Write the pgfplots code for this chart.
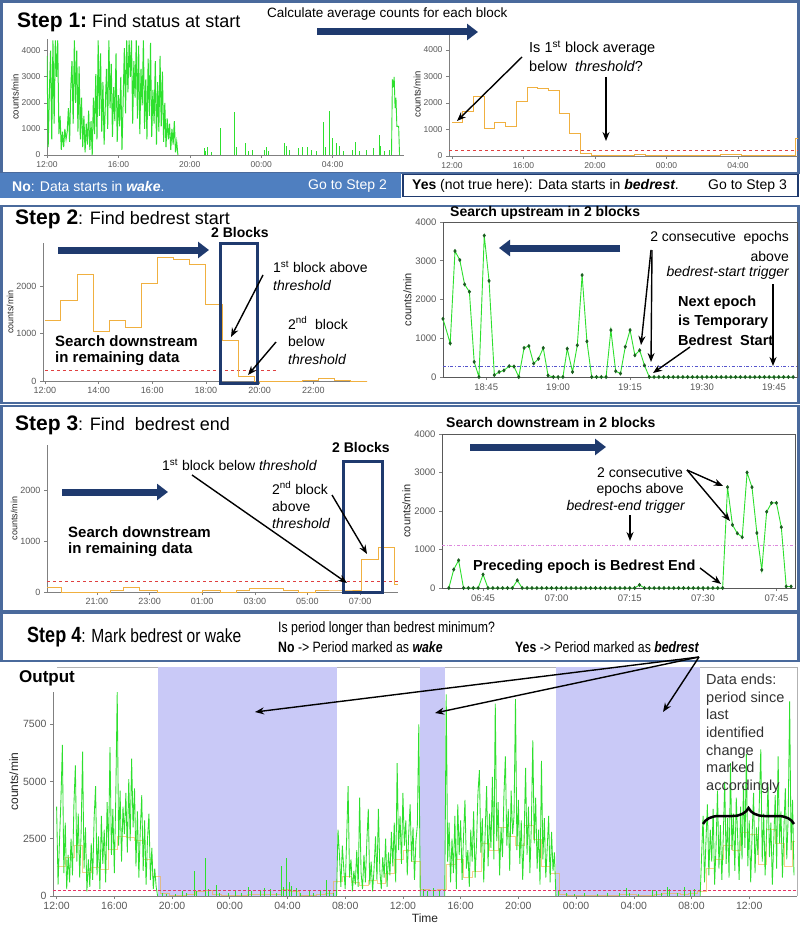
\documentclass[border=0pt]{standalone}
\usepackage{fontspec}
\setmainfont{Liberation Sans}
\usepackage{graphicx}
\usepackage{pgfplots}
\usepackage{pgfplotstable}
\pgfplotsset{compat=1.18}
\usetikzlibrary{arrows.meta,decorations.pathreplacing}
\definecolor{navy}{HTML}{1F3A6E}
\definecolor{panel}{HTML}{4A6A9C}
\definecolor{barblue}{HTML}{4F7FC0}
\definecolor{lav}{HTML}{C9C9F7}
\definecolor{orng}{HTML}{F0B040}
\definecolor{thr}{HTML}{E04040}
\definecolor{lgreen}{HTML}{2EE02E}
\definecolor{dkgreen}{HTML}{1B5E20}
\definecolor{axgray}{HTML}{808080}
\definecolor{tickgray}{HTML}{595959}
\definecolor{trigblue}{HTML}{5555CC}
\definecolor{trigpink}{HTML}{DD88DD}
\newcommand{\fs}[1]{\fontsize{#1}{#1}\selectfont}

% ---------- data ----------
\pgfplotstableread[row sep=\\]{y\\ 3800\\ 300\\ 2400\\ 4000\\ 600\\
4400\\ 1200\\ 4400\\ 3000\\ 4400\\ 800\\
1500\\ 200\\ 900\\ 300\\ 1000\\
600\\ 900\\ 1800\\ 500\\ 2600\\
3600\\ 1200\\ 4400\\ 2000\\ 4000\\
900\\ 3400\\ 600\\ 2200\\ 300\\
1500\\ 100\\ 1200\\ 400\\ 1700\\
200\\ 1300\\ 0\\ 2200\\ 800\\
3100\\ 600\\ 4400\\ 1500\\ 3900\\
900\\ 2800\\ 400\\ 1900\\ 3300\\
1000\\ 4400\\ 1800\\ 3500\\ 700\\
2600\\ 1300\\ 3900\\ 500\\ 2300\\
1100\\ 3000\\ 200\\ 2100\\ 4100\\
1600\\ 4400\\ 2400\\ 4400\\ 3000\\
4400\\ 1200\\ 3600\\ 2200\\ 4400\\
1400\\ 4200\\ 800\\ 3300\\ 1900\\
4400\\ 1000\\ 2900\\ 600\\ 3700\\
1500\\ 4300\\ 700\\ 2500\\ 1200\\
3600\\ 400\\ 2800\\ 900\\ 3800\\
1100\\ 3200\\ 500\\ 2000\\ 300\\
1400\\ 600\\ 1200\\ 200\\ 1000\\
400\\ 1300\\ 100\\ 500\\ 0\\}\sOne

\pgfplotstableread[row sep=\\]{x y\\ 12 1270\\ 12.6 1690\\ 13.2 2250\\ 13.8 1050\\ 14.4 1270\\ 15.0 1130\\ 15.6 2060\\ 16.2 2600\\ 16.8 2560\\ 17.4 2460\\ 18.0 1610\\ 18.6 850\\ 19.2 90\\ 19.8 0\\ 21.6 20\\ 22.2 60\\ 22.8 20\\ 23.4 0\\ 25.2 20\\ 25.8 0\\ 26.4 20\\ 27.0 60\\ 27.6 70\\ 28.2 30\\ 28.8 0\\ 29.4 20\\ 30.6 20\\ 31.2 650\\ 31.8 650\\}\blocks

\pgfplotstableread[row sep=\\]{y\\ 3900\\ 500\\ 2400\\ 4200\\ 6600\\ 1000\\ 3200\\ 300\\ 1800\\ 600\\
2500\\ 900\\ 4000\\ 5700\\ 1500\\ 3600\\ 800\\ 2800\\ 6300\\ 1200\\
3000\\ 200\\ 1600\\ 400\\ 2300\\ 700\\ 3400\\ 4800\\ 900\\ 2600\\
300\\ 3500\\ 1400\\ 2900\\ 600\\ 4100\\ 2000\\ 6500\\ 1800\\ 3800\\
1000\\ 4300\\ 8900\\ 2200\\ 4600\\ 1500\\ 3900\\ 2700\\ 4500\\ 1900\\
5100\\ 2400\\ 6000\\ 3000\\ 4700\\ 1300\\ 3700\\ 800\\ 2900\\ 4400\\
1100\\ 3300\\ 500\\ 2500\\ 3600\\ 700\\ 2100\\ 300\\ 1200\\ 400\\ 0\\}\outA

\pgfplotstableread[row sep=\\]{y\\ 0\\ 2900\\ 1800\\ 400\\ 2200\\ 1200\\ 300\\ 2500\\ 4800\\ 800\\
1600\\ 200\\ 1100\\ 500\\ 2000\\ 400\\ 4300\\ 1000\\ 300\\ 1800\\
600\\ 2400\\ 3800\\ 500\\ 1500\\ 200\\ 1200\\ 2600\\ 700\\ 3800\\
1100\\ 300\\ 1700\\ 800\\ 2500\\ 400\\ 1900\\ 900\\ 2800\\ 1300\\
3200\\ 600\\ 5800\\ 2000\\ 3500\\ 1400\\ 4500\\ 2200\\ 3300\\ 900\\
2700\\ 4000\\ 1500\\ 3000\\ 700\\ 2400\\ 3100\\ 7500\\ 0\\}\outB

\pgfplotstableread[row sep=\\]{y\\ 0\\ 8800\\ 1500\\ 3200\\ 600\\ 2500\\ 1000\\ 3500\\ 300\\ 4000\\
1800\\ 3300\\ 700\\ 2600\\ 4200\\ 1200\\ 2000\\ 400\\ 2900\\ 1500\\
3700\\ 800\\ 2300\\ 4500\\ 5500\\ 1900\\ 3400\\ 600\\ 2800\\ 4800\\
1300\\ 3600\\ 2100\\ 5200\\ 1600\\ 8400\\ 2400\\ 4100\\ 900\\ 3000\\
1700\\ 4400\\ 6100\\ 2200\\ 3800\\ 1100\\ 4600\\ 2700\\ 3500\\ 8600\\
2000\\ 4200\\ 1400\\ 3300\\ 700\\ 2600\\ 5600\\ 1800\\ 3900\\ 1000\\
3100\\ 6800\\ 2300\\ 4300\\ 1200\\ 2900\\ 500\\ 5900\\ 1600\\ 3400\\
800\\ 2100\\ 3500\\ 600\\ 2800\\ 1100\\ 1900\\ 0\\}\outC

\pgfplotstableread[row sep=\\]{y\\ 0\\ 1800\\ 3500\\ 600\\ 2400\\ 4000\\ 900\\ 2900\\ 1500\\ 3800\\
500\\ 2200\\ 4600\\ 1200\\ 3100\\ 700\\ 2600\\ 5000\\ 1400\\ 3400\\
800\\ 5800\\ 2000\\ 3600\\ 1100\\ 4300\\ 2500\\ 700\\ 3900\\ 1600\\
4800\\ 2100\\ 6200\\ 1300\\ 3300\\ 600\\ 2700\\ 4500\\ 1000\\ 3000\\
1800\\ 4100\\ 6400\\ 1500\\ 3600\\ 900\\ 2800\\ 4900\\ 1700\\ 3200\\
500\\ 2400\\ 4400\\ 1200\\ 6100\\ 2300\\ 3700\\ 800\\ 2900\\ 4700\\
1600\\ 3500\\ 8500\\ 2000\\ 4200\\ 900\\}\outD

\pgfplotsset{
 base/.style={scale only axis, anchor=south west,
   axis line style={axgray, line width=0.7pt},
   tick style={axgray, line width=0.6pt}, tick align=outside, major tick length=3pt,
   ticklabel style={text=tickgray},
   /pgf/number format/assume math mode=true, /pgf/number format/1000 sep={},
   scaled y ticks=false, ylabel style={text=black!85}},
 open/.style={base, axis x line*=bottom, axis y line*=left},
 boxed/.style={base, axis line style={black!65, line width=0.8pt}, xtick pos=left, ytick pos=left},
}
\tikzset{
 blk/.style={draw=black, line width=1.4pt, -{Stealth[length=9pt,width=7pt]}},
 nav/.style={draw=navy, line width=7pt, -{Triangle[length=11pt,width=16pt]}},
}

\begin{document}
\begin{tikzpicture}[x=1pt,y=-1pt]
\fill[white] (0,0) rectangle (800,933);
% panel borders
\draw[panel, line width=2.5pt] (1.5,1.5) rectangle (798.5,173);
\draw[panel, line width=2.5pt] (1.5,206) rectangle (798.5,403);
\draw[panel, line width=2.5pt] (1.5,406) rectangle (798.5,611);
\draw[panel, line width=2.5pt] (1.5,613) rectangle (798.5,661);
\fill[barblue] (0,173) rectangle (401,198);
\draw[navy, line width=1.5pt, fill=white] (403,174.5) rectangle (798,196.5);

% ================= Step 1 left =================
\begin{axis}[open, at={(47pt,-155pt)}, width=357pt, height=116pt,
  xmin=12, xmax=32, ymin=0, ymax=4450,
  xtick={12,16,20,24,28}, xticklabels={12:00,16:00,20:00,00:00,04:00},
  ytick={0,1000,2000,3000,4000},
  ticklabel style={font=\fs{8.5}},
  ylabel={counts/min}, ylabel style={font=\fs{9.5}}, ylabel shift=-4pt]
\addplot[lgreen, line width=1pt] table[x expr=12+\coordindex*0.0666667, y=y] {\sOne};
\addplot[lgreen, line width=0.9pt, ycomb] coordinates {(20.8,250)(20.9,150)(21.0,300)(21.2,100)(21.7,1050)(22.5,1650)(22.6,300)(23.1,450)(23.3,150)(23.5,200)(24.2,200)(24.3,300)(24.4,150)(25.3,450)(25.4,350)(25.6,200)(26.1,250)(26.3,300)(26.6,300)(26.8,200)(27.1,150)(27.5,1250)(27.6,300)(27.8,1700)(28.0,650)(28.2,450)(28.4,350)(28.6,150)(29.1,200)(29.3,500)(29.5,150)(29.9,200)(30.3,250)(30.6,750)(30.7,350)(30.9,150)(31.2,200)};
\addplot[lgreen, line width=0.9pt] coordinates {(31.3,0)(31.35,2900)(31.4,2600)(31.45,3000)(31.5,1800)(31.55,2200)(31.6,1100)(31.7,1100)(31.75,0)};
\end{axis}

% ================= Step 1 right =================
\begin{axis}[open, at={(449pt,-156pt)}, width=349pt, height=123pt,
  xmin=11.83, xmax=31.36, ymin=0, ymax=4640,
  xtick={12,16,20,24,28}, xticklabels={12:00,16:00,20:00,00:00,04:00},
  ytick={0,1000,2000,3000,4000},
  ticklabel style={font=\fs{8.5}},
  ylabel={counts/min}, ylabel style={font=\fs{9.5}}, ylabel shift=-4pt]
\addplot[thr, dashed, line width=0.8pt] coordinates {(11.83,220)(31.36,220)};
\addplot[orng, const plot, line width=1pt] table[x=x,y=y] {\blocks};
\end{axis}

% ================= Step 2 left =================
\begin{axis}[open, at={(43pt,-381pt)}, width=324pt, height=138pt,
  xmin=11.93, xmax=24, ymin=0, ymax=2905,
  xtick={12,14,16,18,20,22}, xticklabels={12:00,14:00,16:00,18:00,20:00,22:00},
  ytick={0,1000,2000},
  ticklabel style={font=\fs{9}},
  ylabel={counts/min}, ylabel style={font=\fs{9}}, ylabel shift=-4pt]
\addplot[thr, dashed, line width=0.8pt] coordinates {(12,220)(20.66,220)};
\addplot[orng, const plot, line width=1pt] table[x=x,y=y] {\blocks};
\end{axis}

% ================= Step 2 right =================
\begin{axis}[boxed, at={(443pt,-377pt)}, width=354pt, height=155pt,
  xmin=36, xmax=109.8, ymin=0, ymax=4000,
  xtick={45,60,75,90,105}, xticklabels={18:45,19:00,19:15,19:30,19:45},
  ytick={0,1000,2000,3000,4000},
  ticklabel style={font=\fs{9.5}},
  ylabel={counts/min}, ylabel style={font=\fs{11}}, ylabel shift=-3pt]
\addplot[trigblue, dash dot, line width=0.9pt] coordinates {(36,285)(109.8,285)};
\addplot[lgreen, line width=0.9pt, mark=diamond*, mark size=1.4pt, mark options={draw=dkgreen, fill=dkgreen}] coordinates {(36,1500)(37.5,870)(38.5,3250)(39.5,3020)(40.5,2390)(41.5,2200)(42.5,390)(43.5,0)(44.6,3650)(45.6,2480)(46.7,50)(47.7,130)(48.7,170)(49.8,280)(50.8,270)(51.8,0)(52.9,750)(53.9,800)(54.9,350)(55.9,470)(56.9,750)(57.9,40)(59,0)(60,0)(61,0)(61.9,730)(63,130)(64,820)(65,2630)(66,920)(67,0)(68,0)(69,0)(70,0)(71,1210)(72,150)(73,90)(74,780)(75,1210)(76,560)(77,690)(78,300)(79,0)(80,0)(81,0)(82,0)(83,0)(84,0)(85,0)(86,0)(87,0)(88,0)(89,0)(90,0)(91,0)(92,0)(93,0)(94,0)(95,0)(96,0)(97,0)(98,0)(99,0)(100,0)(101,0)(102,0)(103,0)(104,0)(105,0)(106,0)(107,0)(108,0)(109,0)};
\end{axis}

% ================= Step 3 left =================
\begin{axis}[open, at={(47pt,-592pt)}, width=351pt, height=147pt,
  xmin=19.1, xmax=32.44, ymin=0, ymax=2880,
  xtick={21,23,25,27,29,31}, xticklabels={21:00,23:00,01:00,03:00,05:00,07:00},
  ytick={0,1000,2000},
  ticklabel style={font=\fs{9}},
  ylabel={counts/min}, ylabel style={font=\fs{9}}, ylabel shift=-4pt]
\addplot[thr, dashed, line width=0.8pt] coordinates {(19.1,215)(32.44,215)};
\addplot[orng, const plot, line width=1pt] coordinates {(19.1,90)(19.67,0)(21.5,20)(22.0,80)(22.6,20)(23.3,0)(25.0,20)(25.7,0)(26.3,20)(26.8,70)(28.1,30)(28.65,0)(29.3,20)(30.35,20)(31.07,640)(31.7,870)(32.3,140)(32.44,140)};
\end{axis}

% ================= Step 3 right =================
\begin{axis}[boxed, at={(442pt,-588pt)}, width=353pt, height=154pt,
  xmin=36.6, xmax=108.8, ymin=0, ymax=4000,
  xtick={45,60,75,90,105}, xticklabels={06:45,07:00,07:15,07:30,07:45},
  ytick={0,1000,2000,3000,4000},
  ticklabel style={font=\fs{9.5}},
  ylabel={counts/min}, ylabel style={font=\fs{11}}, ylabel shift=-3pt]
\addplot[trigpink, dash dot, line width=0.8pt] coordinates {(36.6,1100)(108.8,1100)};
\addplot[lgreen, line width=0.9pt, mark=diamond*, mark size=1.4pt, mark options={draw=dkgreen, fill=dkgreen}] coordinates {(38,0)(39,480)(40,720)(41,0)(42,0)(43,0)(44,0)(45,350)(46,0)(47,0)(48,0)(49,0)(50,0)(51,0)(52,200)(53,0)(54,0)(55,0)(56,0)(57,0)(58,0)(59,0)(60,0)(61,0)(62,0)(63,0)(64,0)(65,0)(66,0)(67,0)(68,0)(69,0)(70,0)(71,0)(72,0)(73,0)(74,0)(75,0)(76,0)(77,80)(78,0)(79,0)(80,0)(81,0)(82,0)(83,0)(84,0)(85,0)(86,0)(87,0)(88,0)(89,0)(90,0)(91,0)(92,0)(93,0)(94,0)(95,2620)(96,1640)(97,1420)(98,1320)(99,3000)(100,2620)(101,1430)(102,470)(103,1980)(104,2210)(105,2210)(106,1580)(107,40)(108,40)};
\end{axis}

% ================= Output =================
\draw[black!30, line width=0.8pt] (57,667) -- (797,667) -- (797,896);
\begin{axis}[base, axis x line*=bottom, axis y line*=left, y axis line style={draw=none},
  clip=false, at={(53pt,-896pt)}, width=744pt, height=229pt,
  xmin=11.75, xmax=63.31, ymin=0, ymax=10000,
  xtick={12,16,20,24,28,32,36,40,44,48,52,56,60},
  xticklabels={12:00,16:00,20:00,00:00,04:00,08:00,12:00,16:00,20:00,00:00,04:00,08:00,12:00},
  ytick={0,2500,5000,7500},
  ticklabel style={font=\fs{10.5}},
  ylabel={counts/min}, ylabel style={font=\fs{12}}, ylabel shift=-2pt,
  xlabel={Time}, xlabel style={font=\fs{12}, text=black!85}, xlabel shift=-3pt]
\fill[lav] (axis cs:19.0,0) rectangle (axis cs:31.4,10000);
\fill[lav] (axis cs:37.2,0) rectangle (axis cs:38.9,10000);
\fill[lav] (axis cs:46.6,0) rectangle (axis cs:56.6,10000);
\draw[axgray, line width=0.7pt] (axis cs:11.75,0) -- (axis cs:11.75,8900);
\addplot[orng, const plot, line width=0.5pt, opacity=0.6] coordinates {(12,1300)(12.6,1700)(13.2,2200)(13.8,1050)(14.4,1250)(15.0,1150)(15.6,2050)(16.2,2600)(16.8,2550)(17.4,2450)(18.0,1600)(18.6,850)(19.2,100)(19.8,20)(20.4,30)(21.0,60)(21.6,200)(22.2,250)(22.8,80)(23.4,30)(24.0,40)(24.6,30)(25.2,80)(25.8,60)(26.4,90)(27.0,80)(27.6,300)(28.2,200)(28.8,50)(29.4,40)(30.0,60)(30.6,100)(31.2,650)(31.8,850)(32.4,600)(33.0,450)(33.6,700)(34.2,550)(34.8,1000)(35.4,1600)(36.0,2000)(36.6,1500)(37.2,300)(37.8,250)(38.4,300)(39.0,1400)(39.6,1600)(40.2,800)(40.8,1100)(41.4,2300)(42.0,2000)(42.6,3000)(43.2,2600)(43.8,2200)(44.4,3100)(45.0,2500)(45.6,1300)(46.2,1000)(46.8,60)(47.4,40)(48.0,30)(48.6,40)(49.2,20)(49.8,30)(50.4,40)(51.0,80)(51.6,60)(52.2,30)(52.8,40)(53.4,80)(54.0,120)(54.6,100)(55.2,60)(55.8,100)(56.4,200)(57.0,1200)(57.6,1600)(58.2,2200)(58.8,2000)(59.4,2800)(60.0,2700)(60.6,1400)(61.2,2900)(61.8,2300)(62.4,1300)(63.0,2400)(63.2,2400)};
\addplot[lgreen, line width=0.85pt] table[x expr=12+\coordindex*0.1, y=y] {\outA};
\addplot[lgreen, line width=0.85pt] table[x expr=31.4+\coordindex*0.1, y=y] {\outB};
\addplot[lgreen, line width=0.85pt] table[x expr=38.9+\coordindex*0.1, y=y] {\outC};
\addplot[lgreen, line width=0.85pt] table[x expr=56.6+\coordindex*0.1, y=y] {\outD};
\addplot[lgreen, line width=0.8pt, ycomb] coordinates {(19.3,150)(19.6,100)(20.2,80)(20.7,200)(21.0,120)(21.56,1100)(21.7,200)(22.3,1650)(22.5,300)(23.1,500)(23.3,150)(23.9,120)(24.4,200)(24.8,150)(25.3,400)(25.5,200)(26.1,250)(26.4,350)(26.8,300)(27.2,150)(27.6,1300)(27.7,400)(27.9,1650)(28.1,600)(28.3,450)(28.6,350)(28.9,150)(29.5,200)(29.8,150)(30.3,250)(30.7,700)(30.9,200)(31.2,150)
(37.4,300)(37.7,200)(38.1,350)(38.5,250)
(46.8,200)(47.3,150)(47.9,100)(48.6,120)(49.5,80)(50.2,150)(51.0,120)(51.5,350)(51.7,150)(52.3,100)(53.3,250)(53.6,200)(53.9,150)(54.3,400)(54.5,300)(55.0,150)(55.5,400)(55.9,200)(56.2,300)};
\addplot[thr!80!magenta, densely dashed, line width=0.6pt] coordinates {(11.75,260)(63.31,260)};
\end{axis}

% ================= annotations: Step 1 =================
\node[anchor=west, inner sep=0] at (17,22) {\fs{21}\bfseries Step 1:\fs{18}\mdseries\ Find status at start};
\node[anchor=west, inner sep=0] at (267,14) {\fs{13.5}Calculate average counts for each block};
\draw[nav] (317,32) -- (478,32);
\node[anchor=west, inner sep=0] at (529,48) {\fs{14.5}Is 1\textsuperscript{st} block average};
\node[anchor=west, inner sep=0] at (529,66) {\fs{14.5}below\ \ \itshape threshold\upshape ?};
\draw[blk] (522,57) -- (457,121);
\draw[blk] (606,77) -- (606,141);
\node[anchor=west, inner sep=0, text=white] at (12,186) {\fs{14}\textbf{No}: Data starts in \textbf{\itshape wake}.};
\node[anchor=east, inner sep=0, text=white] at (387,186) {\fs{14}Go to Step 2};
\node[anchor=west, inner sep=0] at (412,186) {\fs{14}\textbf{Yes} (not true here): Data starts in \textbf{\itshape bedrest}.};
\node[anchor=east, inner sep=0] at (787,186) {\fs{14}Go to Step 3};

% ================= Step 2 =================
\node[anchor=west, inner sep=0] at (15,219) {\fs{21}\bfseries Step 2\fs{18}\mdseries: Find bedrest start};
\node[inner sep=0] at (240,232) {\fs{14}\bfseries 2 Blocks};
\draw[navy, line width=3pt] (220,243) rectangle (257,383);
\draw[nav] (58,250) -- (209,250);
\node[anchor=west, inner sep=0] at (273,267) {\fs{14}1\textsuperscript{st} block above};
\node[anchor=west, inner sep=0] at (273,285) {\fs{14}\itshape threshold};
\draw[blk] (263,275) -- (231,337);
\node[anchor=west, inner sep=0] at (288,323) {\fs{14}2\textsuperscript{nd}\ \ block};
\node[anchor=west, inner sep=0] at (288,341) {\fs{14}below};
\node[anchor=west, inner sep=0] at (288,359) {\fs{14}\itshape threshold};
\draw[blk] (276,342) -- (248,375);
\node[anchor=west, inner sep=0] at (55,341) {\fs{15}\bfseries Search downstream};
\node[anchor=west, inner sep=0] at (55,359) {\fs{15}\bfseries in remaining data};
\node[anchor=west, inner sep=0] at (450,213) {\fs{14}\bfseries Search upstream in 2 blocks};
\draw[nav] (620,248) -- (499,248);
\node[anchor=east, inner sep=0] at (789,238) {\fs{14}2 consecutive\ \ epochs};
\node[anchor=east, inner sep=0] at (789,256) {\fs{14}above};
\node[anchor=east, inner sep=0] at (789,273) {\fs{14}\itshape bedrest-start trigger};
\draw[blk] (651,250) -- (641,345);
\draw[blk] (652,250) -- (651,362);
\node[anchor=west, inner sep=0] at (678,303) {\fs{14.5}\bfseries Next epoch};
\node[anchor=west, inner sep=0] at (678,322) {\fs{14.5}\bfseries is Temporary};
\node[anchor=west, inner sep=0] at (678,340) {\fs{14.5}\bfseries Bedrest\ \ Start};
\draw[blk] (690,347) -- (653,373);
\draw[blk] (773,284) -- (773,366);

% ================= Step 3 =================
\node[anchor=west, inner sep=0] at (15,425) {\fs{21}\bfseries Step 3\fs{18}\mdseries: Find\ \ bedrest end};
\node[inner sep=0] at (361,447) {\fs{14}\bfseries 2 Blocks};
\draw[navy, line width=3pt] (343,461) rectangle (382,592);
\draw[nav] (62,492) -- (168,492);
\node[anchor=west, inner sep=0] at (68,532) {\fs{15}\bfseries Search downstream};
\node[anchor=west, inner sep=0] at (68,550) {\fs{15}\bfseries in remaining data};
\node[anchor=west, inner sep=0] at (162,465) {\fs{14}1\textsuperscript{st} block below \itshape threshold};
\draw[blk] (192,475) -- (347,583);
\node[anchor=west, inner sep=0] at (272,488) {\fs{14}2\textsuperscript{nd} block};
\node[anchor=west, inner sep=0] at (272,506) {\fs{14}above};
\node[anchor=west, inner sep=0] at (272,523) {\fs{14}\itshape threshold};
\draw[blk] (332,495) -- (367,554);
\node[anchor=west, inner sep=0] at (446,422) {\fs{14}\bfseries Search downstream in 2 blocks};
\draw[nav] (470,447) -- (606,447);
\node[anchor=east, inner sep=0] at (683,472) {\fs{14}2 consecutive};
\node[anchor=east, inner sep=0] at (684,490) {\fs{14}epochs above};
\node[anchor=east, inner sep=0] at (685,507) {\fs{14}\itshape bedrest-end trigger};
\draw[blk] (687,470) -- (723,486);
\draw[blk] (687,470) -- (730,521);
\draw[blk] (630,515) -- (630,541);
\node[anchor=west, inner sep=0] at (473,567) {\fs{14.5}\bfseries Preceding epoch is Bedrest End};
\draw[blk] (700,568) -- (721,584);

% ================= Step 4 =================
\node[anchor=west, inner sep=0] at (27,637) {\scalebox{0.82}[1]{\fs{22}\bfseries Step 4\fs{19}\mdseries: Mark bedrest or wake}};
\node[anchor=west, inner sep=0] at (278,629) {\scalebox{0.82}[1]{\fs{15}Is period longer than bedrest minimum?}};
\node[anchor=west, inner sep=0] at (278,647) {\scalebox{0.82}[1]{\fs{15}\textbf{No} -> Period marked as \textbf{\itshape wake}}};
\node[anchor=west, inner sep=0] at (515,647) {\scalebox{0.82}[1]{\fs{15}\textbf{Yes} -> Period marked as \textbf{\itshape bedrest}}};

% ================= Output annotations =================
\node[anchor=west, inner sep=0] at (19,678) {\fs{17}\bfseries Output};
\draw[blk] (699,657) -- (255,712);
\draw[blk] (699,657) -- (435,713);
\draw[blk] (699,657) -- (663,712);
\node[anchor=north west, inner sep=0, align=left, text=black!80, font={\fontsize{14.5}{17.6}\selectfont}] at (706,674) {Data ends:\\ period since\\ last\\ identified\\ change\\ marked\\ accordingly};
\draw[decorate, decoration={brace, amplitude=16pt}, line width=2.5pt] (703,824) -- (794,824);

\pgfresetboundingbox
\useasboundingbox (0,0) rectangle (800,933);
\end{tikzpicture}
\end{document}
